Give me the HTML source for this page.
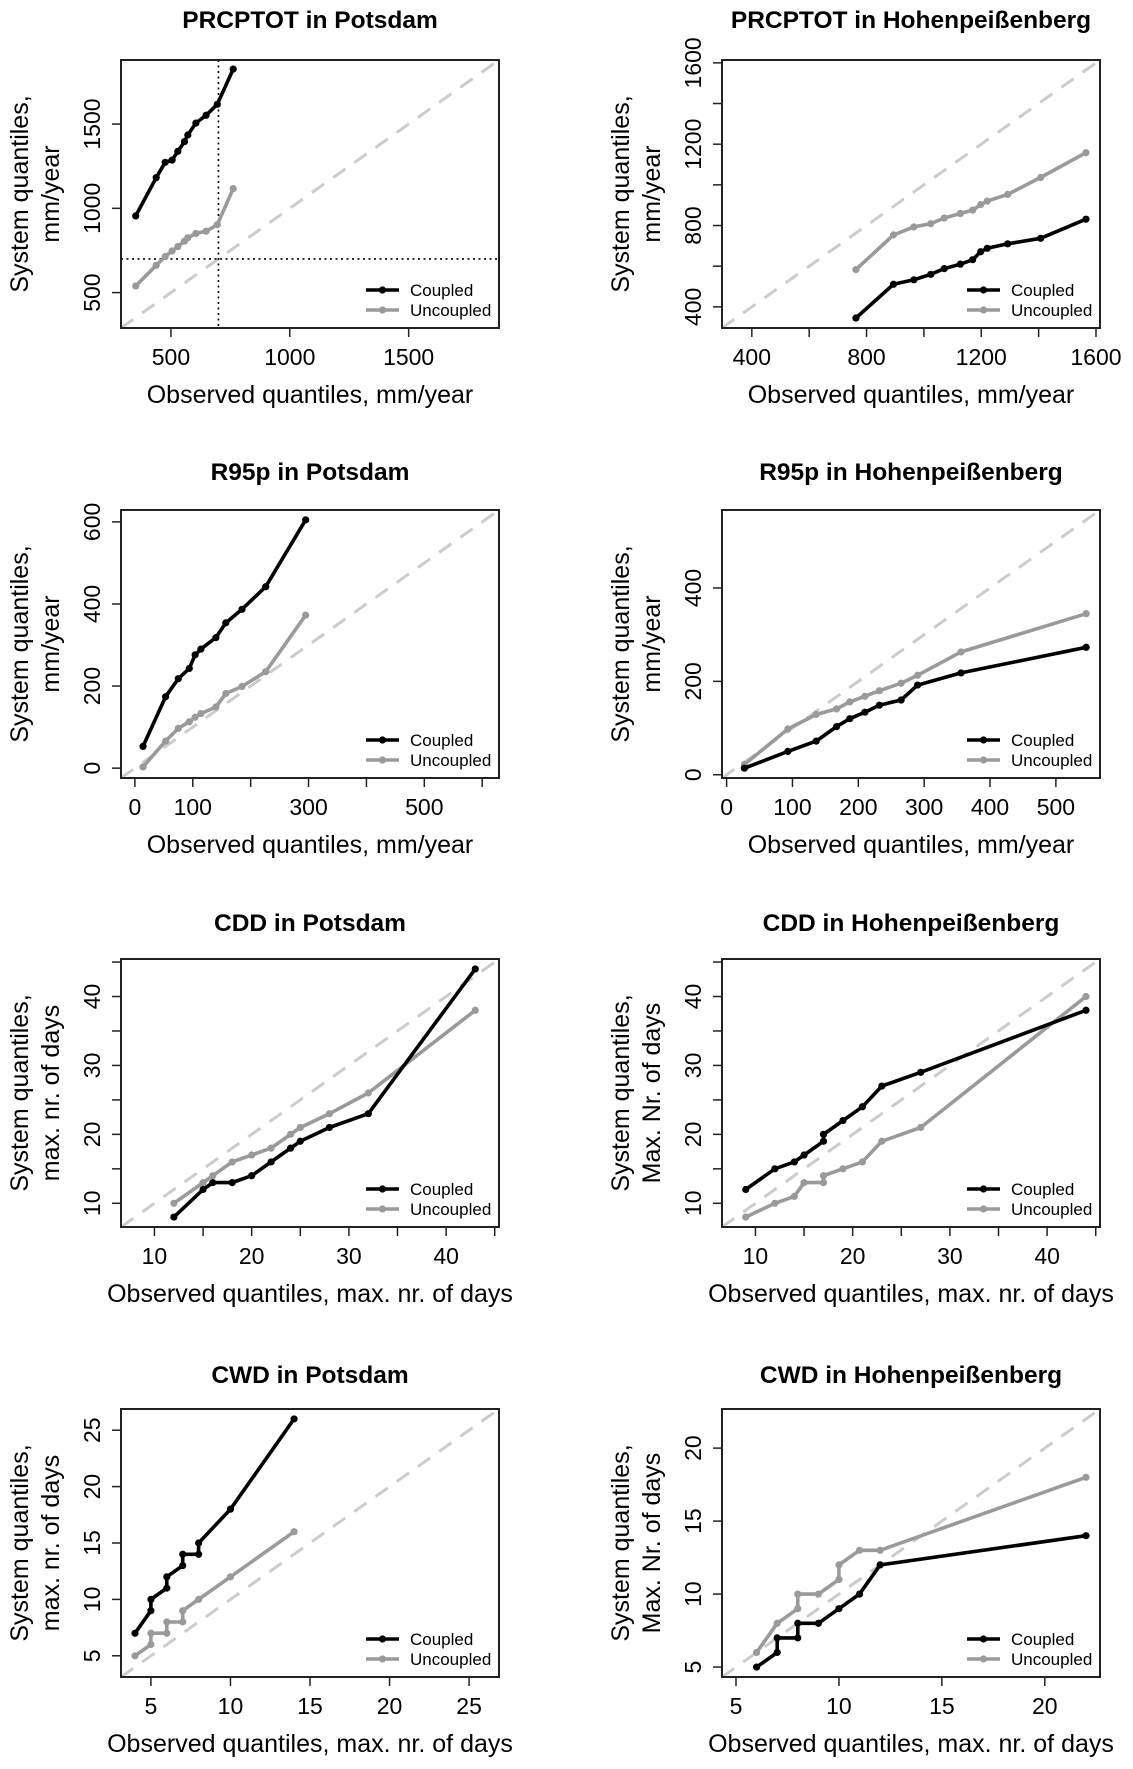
<!DOCTYPE html>
<html><head><meta charset="utf-8">
<style>
html,body{margin:0;padding:0;background:#fff;}
svg{display:block;font-family:"Liberation Sans",Arial,sans-serif;}
</style></head>
<body>
<svg id="chart" width="1133" height="1769" viewBox="0 0 1133 1769" xmlns="http://www.w3.org/2000/svg"></svg>
<script>
// ---- data ----
const p1x = [352,438,476,505,529,557,571,605,648,695,762];
const p1c = [955,1182,1273,1286,1338,1396,1435,1506,1552,1617,1826];
const p1u = [539,662,714,747,773,805,825,851,864,903,1117];
const p2x = [763,894,965,1024,1071,1127,1170,1198,1221,1292,1407,1565];
const p2c = [345,511,533,560,588,610,632,671,688,710,737,831];
const p2u = [583,754,793,809,837,859,876,903,920,953,1036,1158];
const p3x = [14,53,75,94,104,114,140,157,185,226,295];
const p3c = [53,174,218,243,276,290,318,354,387,442,605];
const p3u = [3,66,97,113,124,133,149,182,199,235,373];
const p4x = [27,93,136,167,187,210,232,265,290,356,546];
const p4c = [14,50,72,103,120,134,149,160,192,218,273];
const p4u = [22,98,129,141,156,168,180,196,213,263,345];
const p5x = [12,15,16,18,20,22,24,25,28,32,43];
const p5c = [8,12,13,13,14,16,18,19,21,23,44];
const p5u = [10,13,14,16,17,18,20,21,23,26,38];
const p6x = [9,12,14,15,17,17,19,21,23,27,44];
const p6c = [12,15,16,17,19,20,22,24,27,29,38];
const p6u = [8,10,11,13,13,14,15,16,19,21,40];
const p7xc = [4,5,5,6,6,7,7,8,8,10,14];
const p7c = [7,9,10,11,12,13,14,14,15,18,26];
const p7xu = [4,5,5,6,6,7,7,8,10,14];
const p7u = [5,6,7,7,8,8,9,10,12,16];
const p8xc = [6,7,7,8,8,9,10,11,12,22];
const p8c = [5,6,7,7,8,8,9,10,12,14];
const p8xu = [6,7,8,8,9,10,10,11,12,22];
const p8u = [6,8,9,10,10,11,12,13,13,18];

const titles = ["PRCPTOT in Potsdam","PRCPTOT in Hohenpeißenberg","R95p in Potsdam","R95p in Hohenpeißenberg","CDD in Potsdam","CDD in Hohenpeißenberg","CWD in Potsdam","CWD in Hohenpeißenberg"];
const ylab2 = ["mm/year","mm/year","mm/year","mm/year","max. nr. of days","Max. Nr. of days","max. nr. of days","Max. Nr. of days"];
const xlabs = ["Observed quantiles, mm/year","Observed quantiles, mm/year","Observed quantiles, mm/year","Observed quantiles, mm/year","Observed quantiles, max. nr. of days","Observed quantiles, max. nr. of days","Observed quantiles, max. nr. of days","Observed quantiles, max. nr. of days"];
const lims = [[290,1880],[296,1614],[-24,629],[-7,567],[6.56,45.44],[6.56,45.44],[3.12,26.88],[4.32,22.68]];
const xTicks = [[500,1000,1500],[400,600,800,1000,1200,1400,1600],[0,100,200,300,400,500,600],[0,100,200,300,400,500],[10,15,20,25,30,35,40,45],[10,15,20,25,30,35,40,45],[5,10,15,20,25],[5,10,15,20]];
const xLabels = [[500,1000,1500],[400,800,1200,1600],[0,100,300,500],[0,100,200,300,400,500],[10,20,30,40],[10,20,30,40],[5,10,15,20,25],[5,10,15,20]];
const yTicks = [[500,1000,1500],[400,600,800,1000,1200,1400,1600],[0,200,400,600],[0,200,400],[10,15,20,25,30,35,40,45],[10,15,20,25,30,35,40,45],[5,10,15,20,25],[5,10,15,20]];
const yLabels = [[500,1000,1500],[400,800,1200,1600],[0,200,400,600],[0,200,400],[10,20,30,40],[10,20,30,40],[5,10,15,20,25],[5,10,15,20]];
const seriesX = [[p1x,p1x],[p2x,p2x],[p3x,p3x],[p4x,p4x],[p5x,p5x],[p6x,p6x],[p7xc,p7xu],[p8xc,p8xu]];
const seriesY = [[p1c,p1u],[p2c,p2u],[p3c,p3u],[p4c,p4u],[p5c,p5u],[p6c,p6u],[p7c,p7u],[p8c,p8u]];

const NS = "http://www.w3.org/2000/svg";
const svg = document.getElementById('chart');
function mk(tag, attrs, parent){
  const e = document.createElementNS(NS, tag);
  for (const k in attrs) e.setAttribute(k, attrs[k]);
  (parent||svg).appendChild(e);
  return e;
}
const colL = [121, 722], W = 378, H = 268, rowT = [60, 510, 959, 1409];
const titleY = [28, 480, 931, 1383];
const names = ['prcptot-potsdam','prcptot-hohenpeissenberg','r95p-potsdam','r95p-hohenpeissenberg','cdd-potsdam','cdd-hohenpeissenberg','cwd-potsdam','cwd-hohenpeissenberg'];

for (let i = 0; i < 8; i++) {
  const L = colL[i % 2], T = rowT[Math.floor(i / 2)], R = L + W, B = T + H;
  const [lo, hi] = lims[i];
  const sx = v => L + (v - lo) / (hi - lo) * W;
  const sy = v => B - (v - lo) / (hi - lo) * H;
  const g = mk('g', {});
  
  
  const cx = L + W / 2;
  const t = mk('text', {x: cx, y: titleY[Math.floor(i / 2)], 'text-anchor': 'middle', 'font-size': 24.5, 'font-weight': 'bold'}, g);
  t.textContent = titles[i];
  
  
  const d = mk('line', {x1: L, y1: B, x2: R, y2: T, stroke: '#cccccc', 'stroke-width': 3, 'stroke-dasharray': '15,11'}, g);
  
  
  if (i === 0) {
    const v1 = mk('line', {x1: sx(700), y1: T, x2: sx(700), y2: B, stroke: '#000', 'stroke-width': 1.6, 'stroke-dasharray': '2,3.5'}, g);
    
    
    const h1 = mk('line', {x1: L, y1: sy(700), x2: R, y2: sy(700), stroke: '#000', 'stroke-width': 1.6, 'stroke-dasharray': '2,3.5'}, g);
    
    
  }
  const cols = ['#000000', '#9a9a9a'];
  const sn = ['coupled', 'uncoupled'];
  for (let s = 1; s >= 0; s--) {
    const xs = seriesX[i][s], ys = seriesY[i][s];
    const pts = xs.map((x, k) => sx(x).toFixed(1) + ',' + sy(ys[k]).toFixed(1)).join(' ');
    const pl = mk('polyline', {points: pts, fill: 'none', stroke: cols[s], 'stroke-width': 3.6, 'stroke-linejoin': 'round'}, g);
    
    
    xs.forEach((x, k) => {
      const c = mk('circle', {cx: sx(x), cy: sy(ys[k]), r: 3.6, fill: cols[s]}, g);
      
      
    });
  }
  const bx = mk('rect', {x: L, y: T, width: W, height: H, fill: 'none', stroke: '#222', 'stroke-width': 2}, g);
  
  
  const xa = mk('g', {}, g);
  
  
  const xt = xTicks[i];
  mk('line', {x1: sx(xt[0]), y1: B, x2: sx(xt[xt.length - 1]), y2: B, stroke: '#222', 'stroke-width': 1.5}, xa);
  xt.forEach(v => mk('line', {x1: sx(v), y1: B, x2: sx(v), y2: B + 9, stroke: '#222', 'stroke-width': 1.5}, xa));
  xLabels[i].forEach(v => {
    const tl = mk('text', {x: sx(v), y: B + 37, 'text-anchor': 'middle', 'font-size': 23}, xa);
    tl.textContent = v;
    
    
  });
  const xl = mk('text', {x: cx, y: B + 75, 'text-anchor': 'middle', 'font-size': 25}, g);
  xl.textContent = xlabs[i];
  
  
  const ya = mk('g', {}, g);
  
  
  const yt = yTicks[i];
  mk('line', {x1: L, y1: sy(yt[0]), x2: L, y2: sy(yt[yt.length - 1]), stroke: '#222', 'stroke-width': 1.5}, ya);
  yt.forEach(v => mk('line', {x1: L, y1: sy(v), x2: L - 9, y2: sy(v), stroke: '#222', 'stroke-width': 1.5}, ya));
  yLabels[i].forEach(v => {
    const px = L - 21, py = sy(v);
    const tl = mk('text', {x: px, y: py, 'text-anchor': 'middle', 'font-size': 23, transform: `rotate(-90 ${px} ${py})`}, ya);
    tl.textContent = v;
    
    
  });
  const cy = T + H / 2;
  const y1x = L - 93, y2x = L - 62;
  const yl1 = mk('text', {x: y1x, y: cy, 'text-anchor': 'middle', 'font-size': 25, transform: `rotate(-90 ${y1x} ${cy})`}, g);
  yl1.textContent = 'System quantiles,';
  
  
  const yl2 = mk('text', {x: y2x, y: cy, 'text-anchor': 'middle', 'font-size': 25, transform: `rotate(-90 ${y2x} ${cy})`}, g);
  yl2.textContent = ylab2[i];
  
  
  const lg = mk('g', {}, g);
  
  
  [['Coupled', '#000000', B - 38], ['Uncoupled', '#9a9a9a', B - 18]].forEach(([lab, col, yy]) => {
    const e = mk('g', {}, lg);
    
    
    mk('line', {x1: R - 133, y1: yy, x2: R - 100, y2: yy, stroke: col, 'stroke-width': 3.6}, e);
    mk('circle', {cx: R - 116.5, cy: yy, r: 3.6, fill: col}, e);
    const tx = mk('text', {x: R - 89, y: yy + 6, 'font-size': 17}, e);
    tx.textContent = lab;
  });
}
</script>
</body></html>
